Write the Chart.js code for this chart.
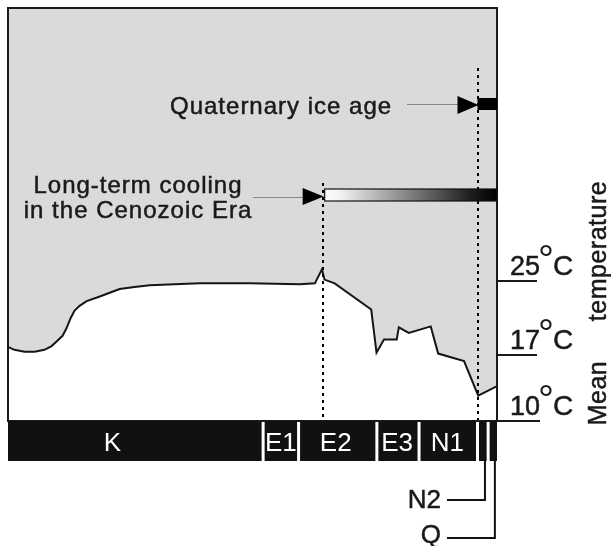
<!DOCTYPE html>
<html>
<head>
<meta charset="utf-8">
<script src="https://cdn.jsdelivr.net/npm/chart.js@4/dist/chart.umd.min.js"></script>
<style>
  body { margin: 0; background: #fff; }
  canvas { display: block; }
</style>
</head>
<body>
<canvas id="myChart" width="611" height="546"></canvas>
<script>
// age in Ma and mean temperature in degrees C
const ageMa = [138, 136.2, 133.3, 130.5, 127.7, 125.7, 124.0, 122.6, 121.5, 120.3, 119.2, 117.8,
               115.8, 112.1, 109.3, 106.5, 102.3, 98.0, 91.0, 83.9, 69.8, 55.6, 51.4, 49.4,
               48.7, 45.8, 35.5, 34.0, 31.9, 28.3, 27.7, 24.9, 18.7, 16.6, 9.3, 5.3, 0.1];
const tempC = [17.9, 17.6, 17.4, 17.4, 17.6, 18.0, 18.6, 19.1, 19.9, 21.0, 21.8, 22.3,
               22.8, 23.3, 23.7, 24.1, 24.3, 24.5, 24.6, 24.7, 24.7, 24.6, 24.7, 26.2,
               25.1, 24.7, 21.9, 17.3, 18.7, 18.7, 20.0, 19.4, 20.1, 17.2, 16.4, 12.7, 13.7];

// geological periods along the bottom bar
const eraNames  = ['K', 'E1', 'E2', 'E3', 'N1', 'N2', 'Q'];
const eraBounds = [138, 66, 56, 33.9, 22, 5.5, 2.5, 0];
const eraLabelAt = [108.5, 61, 45.5, 28.2, 14];   // where the label sits inside the bar
const leadNames = ['N2', 'Q'];
const leadAt    = [3.4, 0.6];

const tempTicks = [10, 17, 25];
const coolingStart = 49.2;
const iceStart = 5.5;

const FONT = '"Liberation Sans", Arial, sans-serif';

// text a touch heavier, like the scanned original
function darkText(c, s, x, y) {
  c.fillText(s, x, y);
  c.strokeText(s, x, y);
}

const decor = {
  id: 'decor',
  beforeDraw(chart) {
    const c = chart.ctx;
    c.save();
    c.fillStyle = '#fff';
    c.fillRect(0, 0, chart.width, chart.height);
    c.restore();
  },
  afterDraw(chart) {
    const c = chart.ctx;
    const a = chart.chartArea;
    const xs = chart.scales.x, ys = chart.scales.y;
    const px = v => xs.getPixelForValue(v);
    c.save();

    // dotted markers
    const d1 = Math.round(px(coolingStart)), d2 = Math.round(px(iceStart));
    c.strokeStyle = '#000';
    c.lineWidth = 2;
    c.setLineDash([3, 4]);
    c.beginPath();
    c.moveTo(d1, 183); c.lineTo(d1, a.bottom);
    c.moveTo(d2, 68); c.lineTo(d2, a.bottom);
    c.stroke();
    c.setLineDash([]);

    // frame
    c.strokeStyle = '#1a1a1a';
    c.lineWidth = 2;
    c.strokeRect(a.left, a.top, a.right - a.left, a.bottom - a.top);

    // long-term cooling bar
    const cx = px(coolingStart);
    const g = c.createLinearGradient(cx, 0, a.right, 0);
    g.addColorStop(0, '#ffffff');
    g.addColorStop(0.1, '#f2f2f2');
    g.addColorStop(0.5, '#808080');
    g.addColorStop(0.85, '#1e1e1e');
    g.addColorStop(1, '#000');
    c.fillStyle = g;
    c.fillRect(cx + 2, 189, a.right - cx - 2, 12);
    c.lineWidth = 1.2;
    c.strokeStyle = '#111';
    c.strokeRect(cx + 2, 189, a.right - cx - 2, 12);

    // quaternary bar
    const ix = px(iceStart);
    c.fillStyle = '#000';
    c.fillRect(ix, 98, a.right - ix, 12);

    // arrows
    c.strokeStyle = '#888';
    c.lineWidth = 1;
    c.beginPath();
    c.moveTo(253, 197.5); c.lineTo(cx - 18, 197.5);
    c.moveTo(407, 104.5); c.lineTo(ix - 18, 104.5);
    c.stroke();
    c.fillStyle = '#000';
    c.beginPath();
    c.moveTo(cx - 20, 188); c.lineTo(cx + 1, 196.5); c.lineTo(cx - 20, 205); c.closePath();
    c.moveTo(ix - 20, 96); c.lineTo(ix + 1, 105); c.lineTo(ix - 20, 114); c.closePath();
    c.fill();

    // era bar
    const top = a.bottom, bot = a.bottom + 40;
    c.fillStyle = '#111';
    for (let i = 0; i < eraNames.length; i++) {
      let x0 = px(eraBounds[i]), x1 = px(eraBounds[i + 1]);
      if (i > 0) x0 += 1.5;
      if (i < eraNames.length - 1) x1 -= 1.5;
      c.fillRect(x0, top, x1 - x0, bot - top);
    }
    c.fillStyle = '#fff';
    c.font = '26px ' + FONT;
    c.textAlign = 'center';
    c.textBaseline = 'alphabetic';
    for (let i = 0; i < eraLabelAt.length; i++) {
      c.fillText(eraNames[i], px(eraLabelAt[i]), top + 30);
    }

    // N2 / Q lead lines
    c.strokeStyle = '#111';
    c.lineWidth = 2;
    c.fillStyle = '#1a1a1a';
    c.textAlign = 'right';
    const leadY = [500, 538];
    for (let i = 0; i < leadNames.length; i++) {
      const lx = px(leadAt[i]);
      c.beginPath();
      c.moveTo(lx, bot); c.lineTo(lx, leadY[i]); c.lineTo(447, leadY[i]);
      c.stroke();
    }
    c.lineWidth = 0.5;
    c.strokeStyle = '#1a1a1a';
    c.font = '26px ' + FONT;
    darkText(c, leadNames[0], 441, leadY[0] + 8);
    darkText(c, leadNames[1], 441, leadY[1] + 5);

    // temperature ticks on the right
    c.textAlign = 'left';
    for (const t of tempTicks) {
      const y = Math.round(ys.getPixelForValue(t));
      c.lineWidth = 2;
      c.beginPath();
      c.moveTo(a.right, y); c.lineTo(a.right + (t === 10 ? 43 : 40), y);
      c.stroke();
      c.lineWidth = 0.5;
      c.font = '27px ' + FONT;
      darkText(c, String(t), 510, y - 6);
      c.font = '40px ' + FONT;
      c.fillText('°', 538, y - 8);
      c.font = '28px ' + FONT;
      darkText(c, 'C', 553, y - 6);
    }

    // annotation texts
    c.lineWidth = 0.5;
    c.font = '24px ' + FONT;
    c.letterSpacing = '1px';
    c.textAlign = 'left';
    darkText(c, 'Quaternary ice age', 170, 114);
    c.textAlign = 'center';
    darkText(c, 'Long-term cooling', 138, 193);
    darkText(c, 'in the Cenozoic Era', 138, 218);

    // axis title
    c.save();
    c.translate(606, 0);
    c.rotate(-Math.PI / 2);
    c.textAlign = 'center';
    c.font = '25px ' + FONT;
    c.letterSpacing = '0.5px';
    darkText(c, 'Mean', -393, 0);
    darkText(c, 'temperature', -251, 0);
    c.restore();

    c.restore();
  }
};

const ctx = document.getElementById('myChart').getContext('2d');
const myChart = new Chart(ctx, {
  type: 'line',
  data: {
    datasets: [{
      data: ageMa.map((v, i) => ({ x: v, y: tempC[i] })),
      borderColor: '#151515',
      borderWidth: 2,
      backgroundColor: '#dadada',
      fill: 'end',
      pointRadius: 0,
      tension: 0
    }]
  },
  options: {
    responsive: false,
    animation: false,
    layout: { padding: { left: 8, top: 8, right: 114, bottom: 125 } },
    plugins: { legend: { display: false }, tooltip: { enabled: false } },
    scales: {
      x: { type: 'linear', reverse: true, min: 0, max: 138, display: false },
      y: { min: 10, max: 54.1, display: false }
    }
  },
  plugins: [decor]
});
</script>
</body>
</html>
